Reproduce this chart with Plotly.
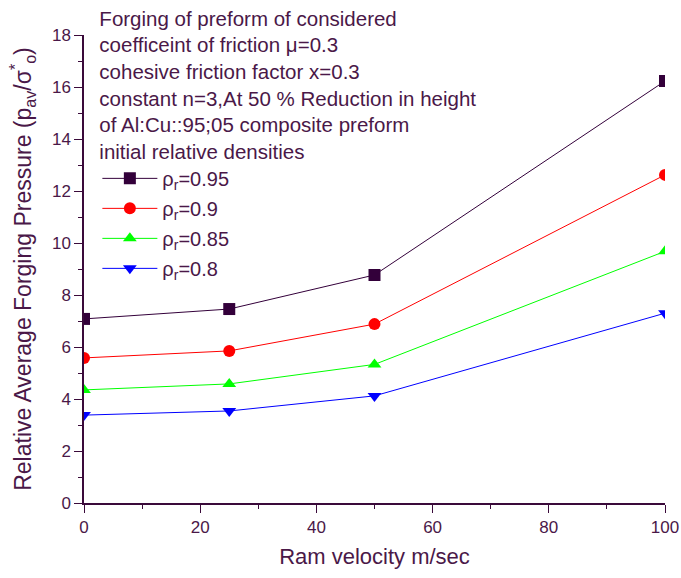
import plotly.graph_objects as go

velocity = [0, 25, 50, 100]
p095 = [7.08, 7.46, 8.77, 16.23]
p090 = [5.58, 5.85, 6.88, 12.62]
p085 = [4.35, 4.58, 5.33, 9.68]
p080 = [3.38, 3.54, 4.12, 7.30]

series = [
    ("ρ<sub>r</sub>=0.95", p095, "#33003a", "square"),
    ("ρ<sub>r</sub>=0.9", p090, "#ff0000", "circle"),
    ("ρ<sub>r</sub>=0.85", p085, "#00ff00", "triangle-up"),
    ("ρ<sub>r</sub>=0.8", p080, "#0000ff", "triangle-down"),
]

dark = "#4a1848"
axc = "#3a0a3a"
fig = go.Figure()
for i, (name, ys, col, sym) in enumerate(series):
    fig.add_trace(go.Scatter(x=velocity, y=ys, name=name, mode="lines+markers",
                             legendgroup=f"g{i}",
                             line=dict(color=col, width=1),
                             marker=dict(symbol=sym, size=12, color=col)))

title = ("Forging of preform of considered<br>coefficeint of friction μ=0.3<br>"
         "cohesive friction factor x=0.3<br>constant n=3,At 50 % Reduction in height<br>"
         "of Al:Cu::95;05 composite preform<br>initial relative densities")

fig.update_layout(
    width=681, height=578,
    margin=dict(l=84, r=16, t=35, b=75, autoexpand=False),
    plot_bgcolor="white", paper_bgcolor="white",
    font=dict(family="Liberation Sans, Arial", color=dark, size=17),
    showlegend=True,
    legend=dict(x=0.023, y=1.077, xanchor="left", yanchor="top",
                bgcolor="rgba(0,0,0,0)", maxheight=1,
                font=dict(size=20, color=dark),
                title=dict(text=title, font=dict(size=20.5, color=dark), side="top"),
                itemwidth=55, tracegroupgap=1),
    xaxis=dict(range=[0, 100], dtick=20, showgrid=False, zeroline=False,
               showline=True, linecolor=axc, linewidth=1.5,
               ticks="outside", ticklen=8, tickcolor=axc,
               minor=dict(dtick=10, ticks="outside", ticklen=4, tickcolor=axc),
               title=dict(text="Ram velocity m/sec", font=dict(size=22), standoff=12)),
    yaxis=dict(range=[0, 18], dtick=2, showgrid=False, zeroline=False,
               showline=True, linecolor=axc, linewidth=1.5,
               ticks="outside", ticklen=8, tickcolor=axc,
               minor=dict(dtick=1, ticks="outside", ticklen=4, tickcolor=axc),
               title=dict(text="Relative Average Forging Pressure (p<sub>av</sub>/σ<sup>*</sup><sub>o</sub>)",
                          font=dict(size=23), standoff=14)),
)

fig.write_html("out.html")
